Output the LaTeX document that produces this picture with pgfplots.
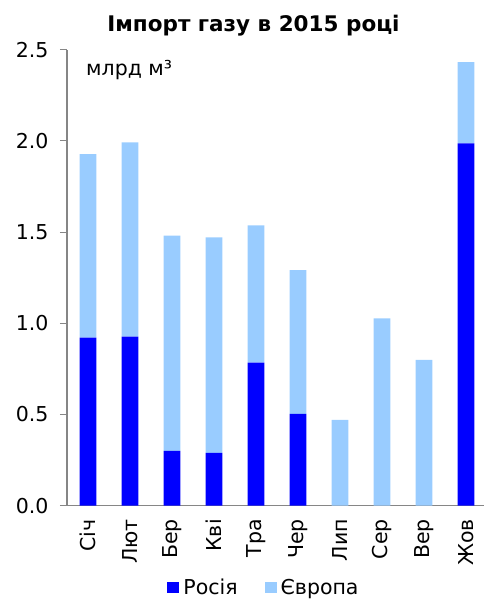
\documentclass[border=0pt]{standalone}
\usepackage{fontspec}
\setmainfont{DejaVu Sans}
\usepackage{pgfplots}
\usepackage{pgfplotstable}
\pgfplotsset{compat=1.18}
\definecolor{rus}{RGB}{0,0,255}
\definecolor{eur}{RGB}{153,204,255}
\definecolor{axgray}{RGB}{134,134,134}
\pgfplotstableread{
x rus eur
0 0.921 1.007
1 0.927 1.065
2 0.300 1.180
3 0.289 1.182
4 0.784 0.753
5 0.503 0.789
6 0.000 0.470
7 0.000 1.027
8 0.000 0.799
9 1.987 0.445
}\gasdata
\begin{document}
\begin{tikzpicture}
\begin{axis}[
  name=ax,
  scale only axis, width=417pt, height=456pt,
  xmin=-0.5, xmax=9.43, ymin=0, ymax=2.5,
  ybar stacked, bar width=16.7pt,
  axis x line*=bottom, axis y line*=left,
  axis line style={axgray, line width=1.2pt, -},
  tick align=outside,
  ytick={0,0.5,...,2.5},
  ytick style={axgray, line width=1pt},
  major tick length=7pt,
  yticklabel style={/pgf/number format/.cd, fixed, fixed zerofill, precision=1, assume math mode=true},
  yticklabel shift=8pt,
  xtick={0,...,9},
  xticklabels={Січ,Лют,Бер,Кві,Тра,Чер,Лип,Сер,Вер,Жов},
  xtick style={draw=none},
  minor xtick={-0.5,0.5,...,8.5},
  minor tick length=7pt,
  minor x tick style={axgray, line width=1pt},
  xticklabel style={rotate=90, anchor=east},
  xticklabel shift=3pt,
  tick label style={font=\fontsize{20.5}{23}\selectfont},
  legend columns=2,
  legend style={at={(0.47,0)}, anchor=center, yshift=-82pt, draw=none,
    font=\fontsize{20.5}{23}\selectfont, inner sep=0pt,
    nodes={inner sep=0pt},
    /tikz/every odd column/.append style={column sep=0pt},
    /tikz/every even column/.append style={column sep=27pt}},
  legend image code/.code={\fill[#1] (0pt,-5.5pt) rectangle (12pt,6pt); \path (16pt,0pt);},
]
\addplot[fill=rus, draw=none] table[x=x, y=rus] {\gasdata};
\addplot[fill=eur, draw=none] table[x=x, y=eur] {\gasdata};
\legend{Росія, Європа}
\end{axis}
\node[font=\bfseries\fontsize{21.5}{24}\selectfont] at ([shift={(186.5pt,480.5pt)}]ax.south west) {Імпорт газу в 2015 році};
\node[anchor=base west, font=\fontsize{20.5}{23}\selectfont, inner sep=0pt] at ([shift={(19pt,429.7pt)}]ax.south west) {млрд м³};
\pgfresetboundingbox
\path[use as bounding box] (ax.south west) ++(-67pt,-95.3pt) rectangle ++(484pt,601pt);
\end{tikzpicture}
\end{document}
